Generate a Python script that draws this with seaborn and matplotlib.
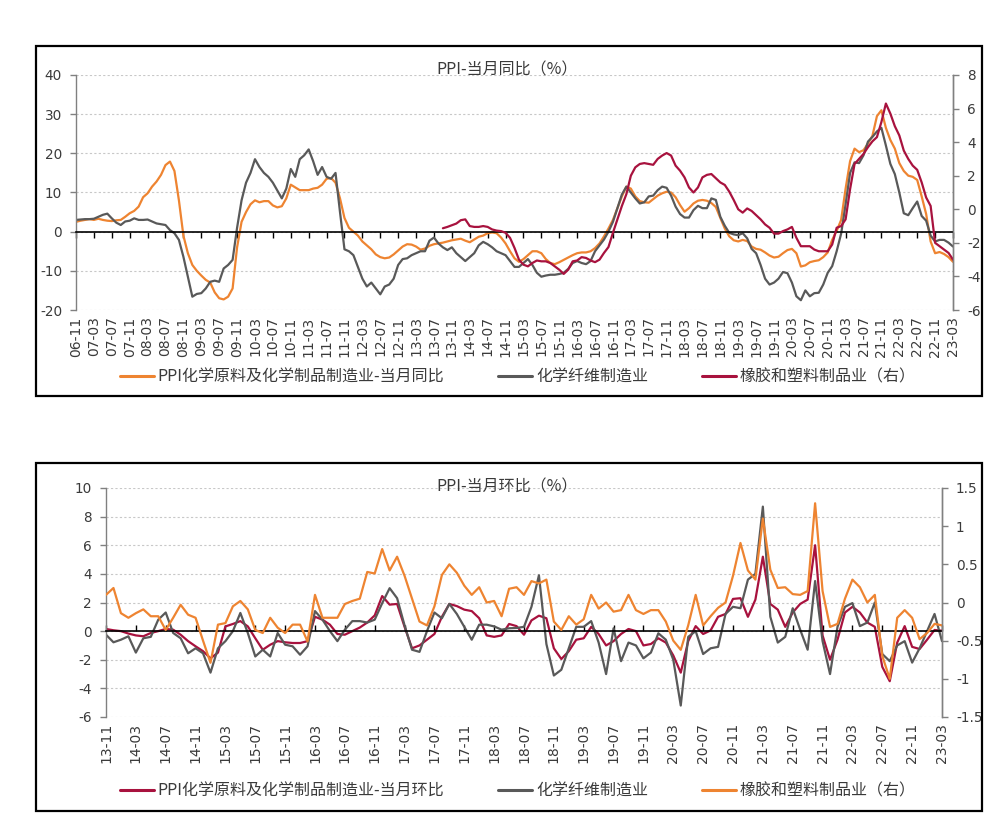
import numpy as np
import pandas as pd
import matplotlib
matplotlib.use("Agg")
import matplotlib.pyplot as plt
from matplotlib.patches import Rectangle
from matplotlib.lines import Line2D
import seaborn as sns

# ---------------- data ----------------
months_top = [p.strftime('%y-%m') for p in pd.period_range('2006-11', '2023-03', freq='M')]
chem_yoy = [
    2.5, 2.8, 3.0, 3.2, 3.0, 3.3, 3.0, 2.8, 2.7, 2.9,
    3.0, 3.8, 4.7, 5.3, 6.4, 8.8, 9.8, 11.5, 12.8, 14.5,
    17.0, 17.9, 15.5, 8.0, -1.0, -5.5, -8.5, -10.0, -11.2, -12.3,
    -13.0, -15.5, -17.0, -17.3, -16.6, -14.5, -4.0, 2.5, 5.0, 7.0,
    8.0, 7.5, 7.8, 7.8, 6.7, 6.2, 6.5, 8.5, 12.0, 11.3,
    10.6, 10.6, 10.6, 11.0, 11.2, 12.0, 13.5, 13.7, 12.5, 8.5,
    3.5, 1.0, 0.0, -1.0, -2.5, -3.5, -4.5, -5.8, -6.5, -6.8,
    -6.6, -5.8, -4.8, -3.8, -3.2, -3.3, -3.8, -4.6, -4.3, -3.6,
    -3.2, -3.0, -2.8, -2.5, -2.2, -2.0, -1.8, -2.3, -2.7, -2.0,
    -1.3, -1.0, -0.4, -0.2, -0.4, -1.5, -3.0, -5.0, -6.8, -7.7,
    -7.0, -6.0, -5.0, -5.0, -5.5, -7.0, -8.0, -8.3, -7.8, -7.2,
    -6.6, -6.0, -5.5, -5.3, -5.3, -5.0, -4.2, -3.0, -1.2, 0.8,
    3.0, 6.0, 9.0, 11.5, 11.0, 9.0, 7.8, 7.5, 7.4, 8.3,
    9.2, 9.8, 10.2, 10.0, 8.8, 6.8, 5.1, 6.0, 7.2, 7.9,
    8.1, 7.9, 7.3, 6.3, 3.5, 0.8, -1.2, -2.2, -2.5, -2.1,
    -2.4, -3.8, -4.4, -4.6, -5.3, -6.1, -6.6, -6.4, -5.5, -4.7,
    -4.4, -5.5, -8.9, -8.6, -7.8, -7.5, -7.3, -6.5, -5.3, -2.1,
    0.2, 3.0, 11.0, 18.0, 21.2, 20.3, 20.8, 22.5, 24.5, 29.5,
    31.0, 26.5, 23.4, 21.2, 17.5, 15.5, 14.3, 14.0, 13.2, 9.0,
    4.5, -2.5, -5.5, -5.2, -5.7, -6.5, -7.7]
fiber_yoy = [
    3.0, 3.1, 3.2, 3.2, 3.3, 3.8, 4.3, 4.6, 3.4, 2.3,
    1.7, 2.6, 2.8, 3.4, 3.0, 3.0, 3.1, 2.6, 2.1, 1.9,
    1.7, 0.4, -0.4, -2.1, -6.4, -11.5, -16.6, -15.9, -15.7, -14.5,
    -12.8, -12.5, -12.8, -9.4, -8.5, -7.2, 1.0, 8.0, 12.5, 15.0,
    18.5, 16.5, 15.0, 14.0, 12.5, 10.5, 8.5, 11.0, 16.0, 14.0,
    18.5, 19.5, 21.0, 18.0, 14.5, 16.5, 14.0, 13.5, 15.0, 5.0,
    -4.5, -5.0, -6.0, -9.0, -12.0, -14.0, -13.0, -14.5, -16.0, -14.0,
    -13.5, -12.0, -8.5, -7.0, -6.8, -6.0, -5.5, -5.0, -5.0, -2.3,
    -1.5, -3.0, -4.0, -4.7, -4.0, -5.5, -6.5, -7.5, -6.5, -5.5,
    -3.5, -2.6, -3.2, -4.0, -5.0, -5.5, -6.0, -7.5, -9.0, -9.0,
    -8.0, -7.0, -8.5, -10.5, -11.5, -11.2, -11.0, -11.0, -10.8, -10.5,
    -9.5, -8.0, -7.5, -8.0, -8.3, -7.5, -5.0, -3.5, -2.0, 0.0,
    2.5, 6.0, 9.5, 11.5, 10.0, 8.5, 7.2, 7.5, 9.0, 9.2,
    10.6, 11.5, 11.2, 9.2, 6.4, 4.5, 3.6, 3.6, 5.5, 6.6,
    6.0, 6.0, 8.5, 8.1, 3.8, 1.5, -0.3, -0.7, -0.9, -0.4,
    -1.7, -4.4, -5.5, -8.5, -12.0, -13.5, -13.0, -12.0, -10.3, -10.6,
    -13.0, -16.5, -17.5, -15.0, -16.5, -15.7, -15.6, -13.5, -10.5, -8.8,
    -5.0, -0.5, 7.0, 15.0, 17.7, 17.5, 19.5, 23.0, 24.2, 25.6,
    26.5, 22.0, 17.3, 14.7, 10.0, 4.7, 4.2, 6.0, 7.7, 4.0,
    2.8, -1.0, -2.5, -2.1, -2.1, -2.8, -3.8]
rubber_start = '13-09'
rubber_yoy = [
    -1.13, -1.05, -0.95, -0.85, -0.65, -0.6, -1.0, -1.05, -1.05, -1.0,
    -1.05, -1.2, -1.27, -1.3, -1.4, -1.7, -2.3, -3.0, -3.3, -3.4,
    -3.2, -3.05, -3.1, -3.1, -3.2, -3.4, -3.6, -3.85, -3.6, -3.1,
    -3.05, -2.85, -2.9, -3.05, -3.15, -3.0, -2.6, -2.25, -1.4, -0.6,
    0.2, 0.9, 2.0, 2.5, 2.7, 2.75, 2.7, 2.65, 3.0, 3.2,
    3.35, 3.2, 2.6, 2.3, 1.9, 1.3, 1.0, 1.3, 1.9, 2.05,
    2.1, 1.85, 1.6, 1.45, 1.05, 0.55, 0.0, -0.2, 0.05, -0.1,
    -0.35, -0.6, -0.9, -1.1, -1.45, -1.45, -1.3, -1.2, -1.05, -1.7,
    -2.2, -2.2, -2.2, -2.4, -2.5, -2.5, -2.5, -2.1, -1.1, -1.0,
    -0.6, 1.2, 2.7, 3.0, 3.3, 3.7, 4.05, 4.3, 5.2, 6.3,
    5.7, 4.95, 4.4, 3.5, 3.0, 2.6, 2.35, 1.6, 0.7, 0.2,
    -2.0, -2.2, -2.4, -2.6, -3.0]

months_bot = [p.strftime('%y-%m') for p in pd.period_range('2013-11', '2023-03', freq='M')]
chem_mom = [
    0.15, 0.06, 0.0, -0.17, -0.3, -0.36, -0.13, 0.0, 0.15, 0.1,
    -0.25, -0.7, -1.06, -1.4, -1.9, -1.5, 0.33, 0.5, 0.7, 0.33,
    -0.5, -1.3, -0.95, -0.7, -0.78, -0.83, -0.83, -0.7, 1.0, 0.8,
    0.45, -0.2, -0.25, 0.0, 0.25, 0.6, 1.1, 2.45, 1.85, 1.9,
    0.3, -1.2, -1.0, -0.6, -0.2, 1.0, 1.9, 1.75, 1.5, 1.4,
    0.9, -0.3, -0.4, -0.3, 0.5, 0.35, -0.25, 0.75, 1.08, 0.9,
    -1.2, -1.95, -1.4, -0.6, -0.5, 0.3, -0.2, -1.0, -0.7, -0.2,
    0.15, 0.0, -1.0, -0.9, -0.5, -0.8, -1.7, -2.9, -0.7, 0.35,
    -0.2, 0.05, 1.0, 1.2, 2.25, 2.3, 1.0, 2.2, 5.2, 1.9,
    1.5, 0.3, 1.3, 1.9, 2.2, 6.0, -0.3, -2.0, -0.6, 1.3,
    1.7, 1.3, 0.6, 0.3, -2.5, -3.5, -0.8, 0.35, -1.1, -1.25,
    -0.6, 0.08, 0.03]
fiber_mom = [
    -0.25, -0.78, -0.6, -0.36, -1.5, -0.5, -0.4, 0.8, 1.3, -0.13,
    -0.5, -1.55, -1.2, -1.55, -2.9, -1.2, -0.7, 0.0, 1.27, -0.13,
    -1.77, -1.3, -1.77, -0.13, -0.95, -1.06, -1.65, -1.06, 1.4, 0.8,
    0.0, -0.7, 0.1, 0.7, 0.7, 0.6, 0.8, 1.95, 3.0, 2.3,
    0.4, -1.3, -1.45, 0.0, 1.3, 0.9, 1.9, 1.2, 0.3, -0.6,
    0.45, 0.45, 0.33, 0.1, 0.2, 0.22, 0.3, 1.7, 3.9, -0.9,
    -3.1, -2.7, -1.2, 0.3, 0.3, 0.7, -0.8, -3.0, 0.2, -2.1,
    -0.8, -1.0, -1.9, -1.5, -0.15, -0.6, -2.0, -5.2, -0.4, 0.0,
    -1.6, -1.2, -1.1, 1.2, 1.7, 1.6, 3.6, 4.0, 8.7, 1.0,
    -0.8, -0.4, 1.6, 0.1, -1.3, 3.5, -0.7, -3.0, 0.3, 1.7,
    1.96, 0.35, 0.6, 2.0, -1.6, -2.1, -1.0, -0.7, -2.2, -1.2,
    0.0, 1.2, -0.7]
rubber_mom = [
    0.1, 0.19, -0.14, -0.2, -0.14, -0.09, -0.18, -0.18, -0.36, -0.2,
    -0.03, -0.16, -0.2, -0.5, -0.79, -0.29, -0.27, -0.05, 0.02, -0.09,
    -0.36, -0.4, -0.2, -0.33, -0.4, -0.29, -0.29, -0.51, 0.1, -0.2,
    -0.2, -0.2, -0.02, 0.02, 0.05, 0.4, 0.38, 0.7, 0.42, 0.6,
    0.35, 0.05, -0.25, -0.3, -0.05, 0.36, 0.5, 0.39, 0.22, 0.1,
    0.2, 0.0, 0.02, -0.18, 0.18, 0.2, 0.1, 0.28, 0.25, 0.3,
    -0.25, -0.36, -0.18, -0.29, -0.22, 0.1, -0.08, 0.0, -0.12, -0.1,
    0.1, -0.1, -0.15, -0.1, -0.1, -0.25, -0.5, -0.62, -0.3, 0.1,
    -0.3, -0.18, -0.07, 0.0, 0.35, 0.78, 0.42, 0.3, 1.1, 0.43,
    0.19, 0.2, 0.11, 0.1, 0.15, 1.3, 0.15, -0.32, -0.28, 0.05,
    0.3, 0.2, 0.0, 0.1, -0.7, -1.0, -0.2, -0.1, -0.2, -0.48,
    -0.4, -0.28, -0.3]

top_title = "PPI-当月同比（%）"
bot_title = "PPI-当月环比（%）"
top_labels = ["PPI化学原料及化学制品制造业-当月同比", "化学纤维制造业", "橡胶和塑料制品业（右）"]
bot_labels = ["PPI化学原料及化学制品制造业-当月环比", "化学纤维制造业", "橡胶和塑料制品业（右）"]

# ---------------- style ----------------
ORANGE = '#EE8431'
GRAY = '#595959'
RED = '#A8123E'
TXT = '#3A3A3A'
SPINE = '#808080'
CJK = ['Noto Sans CJK SC', 'DejaVu Sans']
LW = 1.6

sns.set_theme(style='white')
plt.rcParams['font.family'] = ['DejaVu Sans', 'Noto Sans CJK SC']
plt.rcParams['axes.unicode_minus'] = False

W, H = 998, 836
fig = plt.figure(figsize=(W / 100, H / 100), dpi=100)


def fx(x):
    return x / W


def fy(y):
    return 1 - y / H


# frames
for (x0, y0, x1, y1) in [(36, 46, 982, 396), (36, 463, 982, 811)]:
    fig.add_artist(Rectangle((fx(x0), fy(y1)), fx(x1 - x0), (y1 - y0) / H,
                             fill=False, ec='black', lw=1.6, transform=fig.transFigure))


def style_axes(ax, ax2, xticks, xlabels, label_pad, tick_dir):
    ax.spines['top'].set_visible(False)
    ax.spines['bottom'].set_position(('data', 0))
    ax.spines['bottom'].set_color('black')
    ax.spines['bottom'].set_linewidth(1.2)
    for s in ['left', 'right']:
        ax.spines[s].set_color(SPINE)
        ax.spines[s].set_linewidth(1.0)
    for s in ['top', 'bottom', 'left']:
        ax2.spines[s].set_visible(False)
    ax2.spines['right'].set_color(SPINE)
    ax2.spines['right'].set_linewidth(1.0)
    ax.yaxis.grid(True, color='#C8C8C8', linestyle=(0, (2, 2)), linewidth=0.8)
    ax.xaxis.grid(False)
    ax2.grid(False)
    ax.set_xticks(xticks)
    ax.set_xticklabels(xlabels, rotation=90)
    ax.tick_params(axis='x', direction=tick_dir, length=4, width=1, color='black',
                   pad=label_pad, labelsize=10, labelcolor=TXT, bottom=True)
    ax.tick_params(axis='y', direction='out', length=4, width=1, color=SPINE,
                   pad=6, labelsize=9.8, labelcolor=TXT, left=True)
    ax2.tick_params(axis='y', direction='out', length=4, width=1, color=SPINE,
                    pad=6, labelsize=9.8, labelcolor=TXT, right=True)
    ax.set_xlabel('')
    ax.set_ylabel('')
    ax2.set_ylabel('')


def add_legend(colors, labels, ycen):
    handles = [Line2D([], [], color=c, lw=2.2) for c in colors]
    fig.legend(handles, labels, loc='center left', bbox_to_anchor=(fx(112), fy(ycen)),
               ncol=3, frameon=False, prop={'family': CJK, 'size': 11.5},
               handlelength=2.1, handletextpad=0.25, columnspacing=3.4,
               borderpad=0, labelcolor=TXT)


# ---------------- top chart ----------------
df_top = pd.DataFrame({'idx': np.arange(len(months_top)), 'month': months_top,
                       'chem': chem_yoy, 'fiber': fiber_yoy})
r0 = months_top.index(rubber_start)
df_rub = pd.DataFrame({'idx': np.arange(r0, r0 + len(rubber_yoy)), 'rubber': rubber_yoy})

ax = fig.add_axes([fx(76), fy(310), fx(953 - 76), (310 - 75) / H])
ax2 = ax.twinx()
sns.lineplot(data=df_top, x='idx', y='chem', ax=ax, color=ORANGE, lw=LW)
sns.lineplot(data=df_top, x='idx', y='fiber', ax=ax, color=GRAY, lw=LW)
sns.lineplot(data=df_rub, x='idx', y='rubber', ax=ax2, color=RED, lw=LW)
ax.set_xlim(0, len(months_top) - 1)
ax.set_ylim(-20, 40)
ax.set_yticks(range(-20, 41, 10))
ax2.set_ylim(-6, 8)
ax2.set_yticks(range(-6, 9, 2))
ticks = list(range(0, len(months_top), 4))
style_axes(ax, ax2, ticks, [months_top[i] for i in ticks], 57, 'out')
fig.text(fx(507), fy(70), top_title, ha='center', va='center', fontsize=11.5,
         color=TXT, family=CJK)
add_legend((ORANGE, GRAY, RED), top_labels, 377)

# ---------------- bottom chart ----------------
df_bot = pd.DataFrame({'idx': np.arange(len(months_bot)), 'month': months_bot,
                       'chem': chem_mom, 'fiber': fiber_mom, 'rubber': rubber_mom})
bx = fig.add_axes([fx(106), fy(717), fx(942 - 106), (717 - 488) / H])
bx2 = bx.twinx()
sns.lineplot(data=df_bot, x='idx', y='chem', ax=bx, color=RED, lw=LW)
sns.lineplot(data=df_bot, x='idx', y='fiber', ax=bx, color=GRAY, lw=LW)
sns.lineplot(data=df_bot, x='idx', y='rubber', ax=bx2, color=ORANGE, lw=LW)
bx.set_xlim(0, len(months_bot) - 1)
bx.set_ylim(-6, 10)
bx.set_yticks(range(-6, 11, 2))
bx2.set_ylim(-1.5, 1.5)
bx2.set_yticks([-1.5, -1, -0.5, 0, 0.5, 1, 1.5])
bx2.set_yticklabels(['-1.5', '-1', '-0.5', '0', '0.5', '1', '1.5'])
bticks = list(range(0, len(months_bot), 4))
style_axes(bx, bx2, bticks, [months_bot[i] for i in bticks], 66, 'in')
fig.text(fx(507), fy(487), bot_title, ha='center', va='center', fontsize=11.5,
         color=TXT, family=CJK)
add_legend((RED, GRAY, ORANGE), bot_labels, 791)

fig.savefig('out.png', dpi=100)
